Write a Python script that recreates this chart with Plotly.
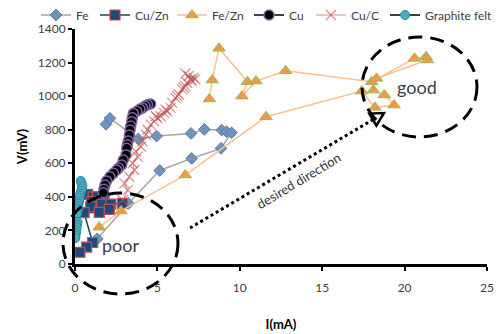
import math
import plotly.graph_objects as go

# ---------------- data (I in mA, V in mV) ----------------
fe_i = [1.88, 2.12, 3.84, 4.95, 7.04, 7.85, 8.90, 9.20, 9.50, 8.86, 7.08, 5.14, 3.24, 1.35]
fe_v = [832, 868, 745, 762, 778, 802, 798, 788, 782, 689, 629, 557, 361, 150]

cuzn_i = [0.75, 1.10, 1.35, 1.76, 1.00, 1.62, 2.17, 2.87, 0.95, 2.08, 1.47, 0.55, 1.07, 0.71, 0.30]
cuzn_v = [415, 400, 401, 385, 371, 357, 357, 361, 341, 326, 308, 306, 128, 100, 70]

fezn_i = [8.15, 8.33, 8.74, 10.46, 10.13, 10.98, 12.78, 18.0, 20.6, 21.3, 21.38, 18.3, 18.1,
          18.77, 19.36, 18.2, 17.4, 11.59, 6.69, 2.79, 1.47]
fezn_v = [983, 1096, 1285, 1086, 1000, 1090, 1151, 1086, 1225, 1235, 1215, 1106, 1036,
          1007, 947, 933, 1030, 877, 530, 316, 219]

cu_i = [4.59, 4.40, 4.25, 4.10, 3.94, 3.75, 3.54, 3.48, 3.44, 3.38, 3.34, 3.30, 3.23, 3.18,
        3.14, 3.10, 2.93, 2.83, 2.65, 2.53, 2.33, 2.12, 1.92, 1.82, 1.75, 1.72]
cu_v = [953, 948, 941, 930, 923, 910, 897, 872, 848, 822, 798, 768, 733, 710,
        689, 650, 619, 590, 572, 560, 540, 520, 495, 470, 445, 425]

cuc_i = [2.9, 3.2, 3.0, 3.3, 3.6, 3.5, 3.8, 3.7, 4.0, 4.1, 4.3, 4.4, 4.6, 4.8, 5.0, 5.2, 4.9,
         5.4, 5.6, 5.5, 5.8, 5.9, 6.1, 6.2, 6.3, 6.5, 6.6, 6.7, 6.8, 7.0, 6.9, 7.2, 7.1, 7.3, 6.7]
cuc_v = [380, 440, 480, 520, 560, 600, 640, 670, 700, 730, 770, 800, 830, 850, 870, 880, 880,
         900, 910, 920, 930, 960, 990, 1000, 1010, 1040, 1050, 1060, 1080, 1100, 1120, 1110,
         1090, 1100, 1135]

gf_i = [0.35, 0.40, 0.45, 0.42, 0.38, 0.33, 0.30, 0.27, 0.25, 0.22, 0.20, 0.18, 0.15, 0.12,
        0.15, 0.12, 0.10, 0.08, 0.05, 0.03, 0.02]
gf_v = [495, 480, 465, 450, 435, 420, 405, 390, 375, 360, 345, 330, 315, 300,
        250, 235, 220, 200, 185, 170, 155]

x_ticks = [0, 5, 10, 15, 20, 25]
y_ticks = [0, 200, 400, 600, 800, 1000, 1200, 1400]

FONT = "Lato"

fig = go.Figure()
fig.add_trace(go.Scatter(x=fe_i, y=fe_v, name="Fe", mode="lines+markers", legendwidth=14,
                         line=dict(color="#A6A6A6", width=1.5),
                         marker=dict(symbol="diamond", size=9, color="#7092BE",
                                     line=dict(color="#5A7AA6", width=1))))
fig.add_trace(go.Scatter(x=cuzn_i, y=cuzn_v, name="Cu/Zn", mode="lines+markers", legendwidth=32,
                         line=dict(color="#1F3F6E", width=1.5),
                         marker=dict(symbol="square", size=10, color="#1F497D",
                                     line=dict(color="#C0504D", width=1.2))))
fig.add_trace(go.Scatter(x=fezn_i, y=fezn_v, name="Fe/Zn", mode="lines+markers", legendwidth=32,
                         line=dict(color="#FAC090", width=1.5),
                         marker=dict(symbol="triangle-up", size=11, color="#F79646",
                                     line=dict(color="#9BBB59", width=1))))
fig.add_trace(go.Scatter(x=cu_i, y=cu_v, name="Cu", mode="lines+markers", legendwidth=17,
                         line=dict(color="#000000", width=1.5),
                         marker=dict(symbol="circle", size=10, color="#000000",
                                     line=dict(color="#8064A2", width=1.5))))
fig.add_trace(go.Scatter(x=cuc_i, y=cuc_v, name="Cu/C", mode="lines+markers", legendwidth=29,
                         line=dict(color="rgba(192,80,77,0.65)", width=1),
                         marker=dict(symbol="x-thin", size=10,
                                     line=dict(color="rgba(192,80,77,0.65)", width=1.2))))
fig.add_trace(go.Scatter(x=gf_i, y=gf_v, name="Graphite felt", mode="lines+markers",
                         legendwidth=70,
                         line=dict(color="#000000", width=1.5),
                         marker=dict(symbol="circle", size=9, color="#4BACC6",
                                     line=dict(color="#31859C", width=1))))

# plot area pixel geometry helpers for annotations (paper coordinates)
L, R, T, B = 75, 487, 29, 264
def px(xp):
    return (xp - L) / (R - L)
def py(yp):
    return (B - yp) / (B - T)

shapes = [
    dict(type="circle", xref="paper", yref="paper",
         x0=px(63), x1=px(178), y0=py(294), y1=py(193),
         line=dict(color="black", width=3, dash="14px,8px")),
    dict(type="circle", xref="paper", yref="paper",
         x0=px(362), x1=px(477), y0=py(137), y1=py(37),
         line=dict(color="black", width=3, dash="14px,8px")),
    dict(type="line", xref="paper", yref="paper",
         x0=px(190), y0=py(228), x1=px(374), y1=py(119),
         line=dict(color="black", width=3, dash="dot")),
]
# open arrow head
tx, ty = 384, 113
dx, dy = 188, -111
n = math.hypot(dx, dy)
ux, uy = dx / n, dy / n
bx, by = tx - 13 * ux, ty - 13 * uy
pxn, pyn = -uy, ux
c1 = (bx + 7 * pxn, by + 7 * pyn)
c2 = (bx - 7 * pxn, by - 7 * pyn)
path = "M {:.4f},{:.4f} L {:.4f},{:.4f} L {:.4f},{:.4f} Z".format(
    px(tx), py(ty), px(c1[0]), py(c1[1]), px(c2[0]), py(c2[1]))
shapes.append(dict(type="path", xref="paper", yref="paper", path=path,
                   line=dict(color="black", width=2.5)))

annotations = [
    dict(text="poor", x=px(121), y=py(245), xref="paper", yref="paper", showarrow=False,
         xanchor="center", yanchor="middle",
         font=dict(family=FONT, size=18, color="#3A3F4A")),
    dict(text="good", x=px(417), y=py(87), xref="paper", yref="paper", showarrow=False,
         xanchor="center", yanchor="middle",
         font=dict(family=FONT, size=18, color="#3A3F4A")),
    dict(text="desired direction", x=px(298), y=py(181), xref="paper", yref="paper",
         showarrow=False, textangle=-31, xanchor="center", yanchor="middle",
         font=dict(family=FONT, size=13, color="#333333")),
]

fig.update_layout(
    width=502, height=334,
    margin=dict(l=L, r=502 - R, t=T, b=334 - B, autoexpand=False),
    paper_bgcolor="white", plot_bgcolor="white",
    font=dict(family=FONT, size=12, color="#404040"),
    showlegend=True,
    legend=dict(orientation="h", x=px(36), xanchor="left", y=py(15), yanchor="middle",
                font=dict(family=FONT, size=12, color="#404040"),
                itemwidth=30, tracegroupgap=0, bgcolor="rgba(0,0,0,0)"),
    shapes=shapes,
    annotations=annotations,
    xaxis=dict(range=[0, 25], tickvals=x_ticks, ticktext=[str(v) for v in x_ticks],
               showgrid=False, zeroline=False, showline=True, linecolor="black", linewidth=2.5,
               ticks="outside", ticklen=4, tickwidth=2, tickcolor="black", automargin=False,
               ticklabelstandoff=7,
               tickfont=dict(family=FONT, size=12, color="#404040"),
               title=dict(text="<b>I(mA)</b>", font=dict(family=FONT, size=13, color="black"),
                          standoff=26)),
    yaxis=dict(range=[0, 1400], tickvals=y_ticks, ticktext=[str(v) for v in y_ticks],
               showgrid=False, zeroline=False, showline=True, linecolor="black", linewidth=3,
               ticks="outside", ticklen=4, tickwidth=2, tickcolor="black", automargin=False,
               tickfont=dict(family=FONT, size=12, color="#404040"),
               title=dict(text="<b>V(mV)</b>", font=dict(family=FONT, size=13, color="black"),
                          standoff=8)),
)

fig.write_html("out.html", config={"displayModeBar": False},
               post_script="document.body.style.margin='0';document.body.style.padding='0';")
